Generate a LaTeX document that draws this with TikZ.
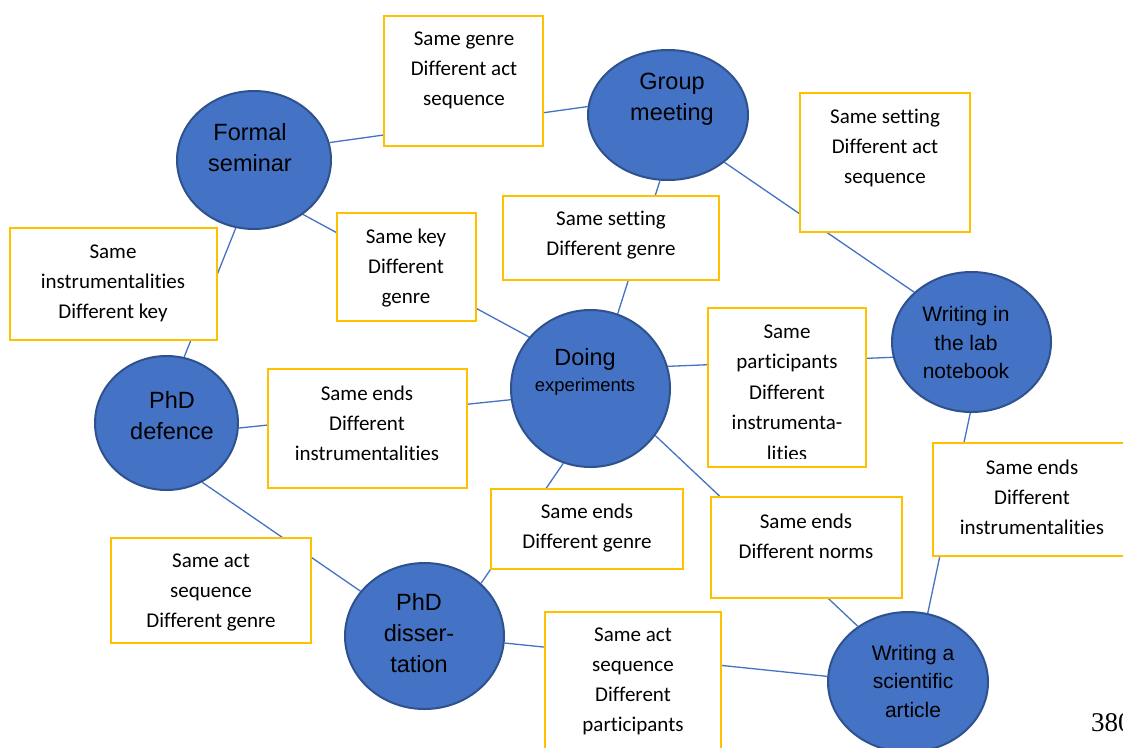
\documentclass[tikz,border=0pt]{standalone}
\usepackage{fontspec}
\usetikzlibrary{shapes.geometric}
\newfontfamily\boxfont[Ligatures={NoCommon}]{Carlito}
\newfontfamily\bubblefont{Liberation Sans}
\newfontfamily\pagefont{Liberation Serif}
\definecolor{bubblefill}{HTML}{4472C4}
\definecolor{bubbleedge}{HTML}{2F528F}
\definecolor{linkblue}{HTML}{4472C4}
\definecolor{boxedge}{HTML}{FFC000}
\pgfdeclarelayer{paper}
\pgfdeclarelayer{links}
\pgfsetlayers{paper,links,main}

\begin{document}
\begin{tikzpicture}[x=1pt,y=-1pt,
  bubble/.style={ellipse, draw=bubbleedge, fill=bubblefill, line width=2pt, inner sep=0pt},
  bubbletext/.style={align=center, inner sep=0pt, text=black, font=\bubblefont\fontsize{23.5}{31}\selectfont},
  smallbubbletext/.style={bubbletext, font=\bubblefont\fontsize{21}{28.5}\selectfont},
  pairbox/.style={draw=boxedge, fill=white, line width=1.2pt, inner sep=0pt},
  pairtext/.style={align=center, inner sep=0pt, text=black, font=\boxfont\fontsize{21}{30}\selectfont},
  link/.style={draw=linkblue, line width=1.3pt}]

\useasboundingbox (0,0) rectangle (1123,747);
\clip (0,0) rectangle (1123,747);
\begin{pgfonlayer}{paper}
  \fill[white] (0,0) rectangle (1123,747);
\end{pgfonlayer}

% speech events
\node[bubble, minimum width=154, minimum height=138] (fs) at (254,160) {};
\node[bubble, minimum width=160, minimum height=130] (gm) at (668,115) {};
\node[bubble, minimum width=159, minimum height=157] (de) at (590.5,388.5) {};
\node[bubble, minimum width=159, minimum height=140] (ln) at (971.5,342) {};
\node[bubble, minimum width=143, minimum height=134] (pd) at (166.5,423) {};
\node[bubble, minimum width=159, minimum height=146] (ds) at (424.5,636) {};
\node[bubble, minimum width=160, minimum height=140] (sa) at (908,682) {};

\node[bubbletext] (fs-t) at (250,148) {Formal\\seminar};
\node[bubbletext] (gm-t) at (672,99.5) {Group\\meeting};
\node[bubbletext, font=\bubblefont\fontsize{23.5}{26}\selectfont] (de-t) at (585,371.5)
  {Doing\\{\fontsize{18.4}{26}\selectfont experiments}};
\node[smallbubbletext] (ln-t) at (966,342.5) {Writing in\\the lab\\notebook};
\node[bubbletext] (pd-t) at (172,415.5) {PhD\\defence};
\node[bubbletext] (ds-t) at (419,633.5) {PhD\\disser-\\tation};
\node[smallbubbletext] (sa-t) at (913,681) {Writing a\\scientific\\article};

% links between events, running behind the comparison boxes
\begin{pgfonlayer}{links}
  \draw[link] (fs.13) -- (gm.174);
  \draw[link] (fs.-105) -- (pd.75);
  \draw[link] (fs.-48) -- (de.140);
  \draw[link] (gm.-97) -- (de.70);
  \draw[link] (gm.-40) -- (ln.139);
  \draw[link] (de.16) -- (ln.-169);
  \draw[link] (ln.-91) -- (sa.74);
  \draw[link] (pd.-4) -- (de.-172);
  \draw[link] (de.-110) -- (ds.43);
  \draw[link] (de.-36) -- (sa.132);
  \draw[link] (pd.-59) -- (ds.145);
  \draw[link] (ds.-5) -- (sa.176);
\end{pgfonlayer}

% comparison boxes
\node[pairbox, minimum width=159, minimum height=130] (b1) at (463.5,81) {};
\node[pairbox, minimum width=170, minimum height=139] (b2) at (885,162.5) {};
\node[pairbox, minimum width=139, minimum height=108] (b3) at (406.5,267) {};
\node[pairbox, minimum width=216, minimum height=84] (b4) at (611,238) {};
\node[pairbox, minimum width=207, minimum height=112] (b5) at (113.5,284) {};
\node[pairbox, minimum width=158, minimum height=159] (b6) at (787,387.5) {};
\node[pairbox, minimum width=199, minimum height=119] (b7) at (367.5,428.5) {};
\node[pairbox, minimum width=200, minimum height=113] (b8) at (1033,499.5) {};
\node[pairbox, minimum width=192, minimum height=80] (b9) at (587,529) {};
\node[pairbox, minimum width=191, minimum height=101] (b10) at (806.5,547.5) {};
\node[pairbox, minimum width=200, minimum height=105] (b11) at (211,590.5) {};
\node[pairbox, minimum width=176, minimum height=148] (b12) at (633,686) {};

\node[pairtext] (t1) at (464,70) {Same genre\\Different act\\sequence};
\node[pairtext] (t2) at (885,148) {Same setting\\Different act\\sequence};
\node[pairtext] (t3) at (406,268) {Same key\\Different\\genre};
\node[pairtext] (t4) at (611,235) {Same setting\\Different genre};
\node[pairtext] (t5) at (113,283) {Same\\instrumentalities\\Different key};
% the last line overflows its box and is cut at the inner margin
\begin{scope}
  \clip (b6.north west) rectangle ([yshift=9pt]b6.south east);
  \node[pairtext, font=\boxfont\fontsize{21}{30.5}\selectfont] (t6) at (787,392.5)
    {Same\\participants\\Different\\instrumenta-\\lities};
\end{scope}
\node[pairtext] (t7) at (367,423) {Same ends\\Different\\instrumentalities};
\node[pairtext] (t8) at (1032,497) {Same ends\\Different\\instrumentalities};
\node[pairtext] (t9) at (587,528) {Same ends\\Different genre};
\node[pairtext] (t10) at (806,536) {Same ends\\Different norms};
\node[pairtext] (t11) at (211,592) {Same act\\sequence\\Different genre};
\node[pairtext] (t12) at (633,681) {Same act\\sequence\\Different\\participants};

% page number
\node[anchor=base west, inner sep=0pt, font=\pagefont\fontsize{27}{30}\selectfont] (pageno) at (1091,731) {380};
\end{tikzpicture}
\end{document}
